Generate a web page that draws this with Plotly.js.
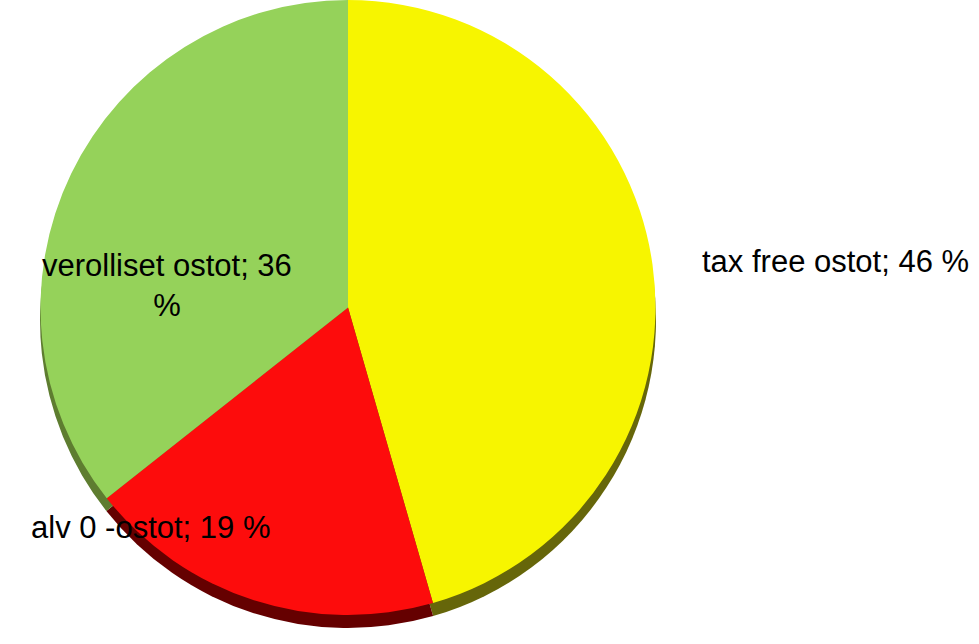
<!DOCTYPE html>
<html>
<head>
<meta charset="utf-8">
<script src="https://cdn.plot.ly/plotly-3.0.1.min.js"></script>
<style>html,body{margin:0;padding:0;background:#fff;}#chart{width:979px;height:644px;}</style>
</head>
<body>
<div id="chart"></div>
<script>
const labels = ["tax free ostot", "alv 0 -ostot", "verolliset ostot"];
const values = [46, 19, 36];
const colors = ["#f7f500", "#fd0c0c", "#95d25a"];
const sideColors = ["#66660a", "#650000", "#5e7d30"];

const W = 979, H = 644;
const cx = 348, cy = 307, r = 308, depth = 13;
function dom(offset) {
  return {
    x: [(cx - r) / W, (cx + r) / W],
    y: [1 - (cy + r + offset) / H, 1 - (cy - r + offset) / H]
  };
}

const common = {
  type: "pie",
  labels: labels,
  values: values,
  sort: false,
  direction: "clockwise",
  rotation: 0,
  textinfo: "none",
  hoverinfo: "label+percent",
  showlegend: false
};

const traces = [
  Object.assign({}, common, {domain: dom(depth), marker: {colors: sideColors, line: {width: 0}}}),
  Object.assign({}, common, {domain: dom(0), marker: {colors: colors, line: {width: 0}}})
];

function labelText(i, wrap) {
  const t = labels[i] + "; " + values[i];
  return wrap ? t + "<br>%" : t + " %";
}

const font = {family: "Liberation Sans, Arial, sans-serif", size: 31, color: "#000"};
const annotations = [
  {text: labelText(0, false), x: 835 / W, y: 1 - 262 / H},
  {text: labelText(1, false), x: 151 / W, y: 1 - 527 / H},
  {text: labelText(2, true), x: 167 / W, y: 1 - 285 / H}
].map(a => Object.assign({xref: "paper", yref: "paper", showarrow: false, xanchor: "center", yanchor: "middle", font: font, align: "center"}, a));

const layout = {
  width: W, height: H,
  margin: {l: 0, r: 0, t: 0, b: 0},
  paper_bgcolor: "#fff",
  showlegend: false,
  annotations: annotations
};

Plotly.newPlot("chart", traces, layout, {displayModeBar: false, staticPlot: true});
</script>
</body>
</html>
